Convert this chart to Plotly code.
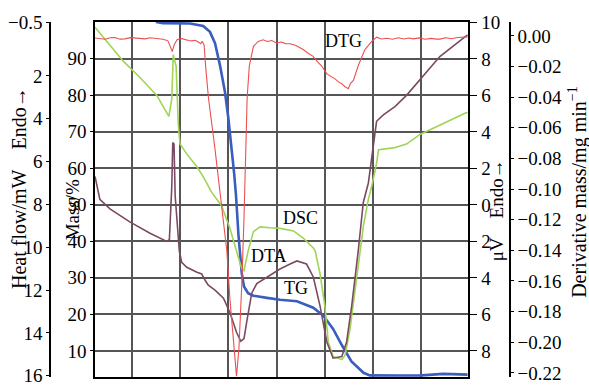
import plotly.graph_objects as go

# Temperature-like abscissa (no labels drawn), grid every 100
grid_x = [100, 200, 300, 400, 500, 600, 700]

# TG: mass / %
tg_x = [150, 165, 221, 248, 262, 272.5, 283, 293, 300, 307, 312, 316, 321, 328, 332.5,
        341, 352, 380, 407, 442, 476, 497, 517, 535, 555, 580, 593, 655, 700, 745, 790, 796]
tg_m = [100, 99.7, 99.6, 98.9, 97.3, 94.2, 88.0, 80.9, 73.8, 65.8, 58.7, 52.5, 41.8, 31.1, 27.6,
        25.8, 25.1, 24.5, 24.0, 23.6, 21.8, 19.6, 16.0, 11.6, 7.1, 4.0, 3.3, 3.25, 3.3, 3.7, 3.5, 3.5]

# DSC: heat flow / mW (endo up)
dsc_x = [24, 83, 117, 152, 177, 183, 186, 192, 196.5, 200, 214, 235, 248, 266, 286, 303.5,
         317, 328, 332.5, 341, 352, 366, 386, 407, 435, 455, 476, 480, 490, 500, 507, 517,
         535, 542, 552, 566, 580, 590, 597, 607, 611, 642, 669, 697, 732, 766, 790, 796]
dsc_h = [-0.27, 1.32, 2.07, 2.91, 3.89, 3.06, 1.01, 1.55, 4.27, 5.18, 5.64, 6.24, 6.70, 7.45,
         8.06, 9.12, 10.18, 11.01, 11.09, 10.18, 9.27, 9.05, 9.09, 9.12, 9.24, 9.57, 10.03,
         10.18, 11.24, 12.75, 14.42, 15.10, 15.25, 15.03, 13.82, 11.39, 8.97, 7.75, 7.15,
         6.09, 5.45, 5.36, 5.18, 4.73, 4.35, 3.97, 3.74, 3.70]

# DTA: signal / µV (endo up)
dta_x = [24, 34, 55, 96, 138, 172.5, 178, 183, 185, 187.6, 190, 193, 198.6, 203.5, 214, 235,
         245, 252, 258.6, 272.5, 290, 303.5, 317, 326, 332.5, 339, 348.5, 359, 379.5, 407,
         428, 442, 462, 476, 490, 504, 517, 535, 545, 555.5, 569, 579.5, 590, 599, 607, 621,
         645, 669, 697, 738, 790, 796]
dta_v = [1.56, 0.31, -0.22, -0.93, -1.55, -2.00, -1.91, 1.02, 3.42, 3.33, 0.49, -0.75, -2.53,
         -3.15, -3.42, -3.69, -3.78, -4.13, -4.40, -4.67, -5.11, -5.91, -6.98, -7.47, -7.33,
         -6.27, -4.84, -4.31, -3.95, -3.51, -3.24, -3.07, -3.24, -3.95, -5.55, -7.51, -8.40,
         -8.31, -7.51, -5.55, -2.53, 0.13, 1.20, 3.16, 4.58, 4.93, 5.38, 6.00, 6.89, 8.13,
         9.20, 9.32]

# DTG: derivative mass / mg min^-1
dtg_x = [24, 35, 45, 55, 65, 76, 86, 97, 107, 118, 128, 138, 148, 157, 165, 175, 181, 184,
         188, 194, 202, 210, 218, 225, 231, 237, 243, 246, 250, 253, 259, 272, 283, 297,
         303.5, 310, 317, 322, 328, 332.5, 336.5, 339, 343.5, 352, 362, 372, 381, 390, 400,
         410, 418, 428, 440, 455, 466, 475, 485, 493, 504, 513, 521, 528, 535, 541, 548.5,
         553, 559, 569, 583, 597, 607, 617, 628, 640, 652, 663, 674, 683, 695, 708, 720,
         731, 738, 750, 762, 775, 790, 796]
dtg_d = [-0.0013, -0.0020, -0.0022, -0.0012, -0.0010, -0.0021, -0.0019, -0.0011, -0.0013,
         -0.0020, -0.0019, -0.0012, -0.0016, -0.0021, -0.0022, -0.0032, -0.0076, -0.0102,
         -0.0057, -0.0025, -0.0016, -0.0024, -0.0030, -0.0032, -0.0028, -0.0038, -0.0051,
         -0.0035, -0.0060, -0.0197, -0.0407, -0.0726, -0.1012, -0.1405, -0.1723, -0.1978,
         -0.2222, -0.2041, -0.1617, -0.1190, -0.0726, -0.0407, -0.0195, -0.0068, -0.0036,
         -0.0025, -0.0036, -0.0030, -0.0046, -0.0040, -0.0050, -0.0051, -0.0062, -0.0089,
         -0.0115, -0.0132, -0.0170, -0.0195, -0.0248, -0.0265, -0.0280, -0.0300, -0.0312,
         -0.0330, -0.0344, -0.0310, -0.0291, -0.0195, -0.0089, -0.0036, -0.0008, -0.0020,
         -0.0015, -0.0022, -0.0012, -0.0020, -0.0014, -0.0019, -0.0013, -0.0022, -0.0016,
         -0.0021, -0.0021, -0.0012, -0.0018, -0.0010, -0.0008, -0.0006]

# Tick definitions
mass_ticks = [10, 20, 30, 40, 50, 60, 70, 80, 90]
hf_ticks = [-0.5, 2, 4, 6, 8, 10, 12, 14, 16]
hf_text = ["\u22120.5", "2", "4", "6", "8", "10", "12", "14", "16"]
uv_ticks = [10, 8, 6, 4, 2, 0, -2, -4, -6, -8]
uv_text = ["10", "8", "6", "4", "2", "0", "2", "4", "6", "8"]
dtg_ticks = [0, -0.02, -0.04, -0.06, -0.08, -0.10, -0.12, -0.14, -0.16, -0.18, -0.20, -0.22]
dtg_text = ["0.00"] + ["\u2212%.2f" % abs(v) for v in dtg_ticks[1:]]

FONT = "Liberation Serif"
W, H = 589, 390
ML, MR, MT, MB = 50, 79, 21.7, 4.0
PW, PH = W - ML - MR, H - MT - MB


def px_x(p):
    return (p - ML) / PW


def px_y(p):
    return 1 - (p - MT) / PH


fig = go.Figure()
fig.add_trace(go.Scatter(x=dsc_x, y=dsc_h, yaxis="y2", mode="lines",
                         line=dict(color="#9fd455", width=1.6)))
fig.add_trace(go.Scatter(x=dta_x, y=dta_v, yaxis="y3", mode="lines",
                         line=dict(color="#7b4a62", width=1.6)))
fig.add_trace(go.Scatter(x=dtg_x, y=dtg_d, yaxis="y4", mode="lines",
                         line=dict(color="#ec5050", width=1.1)))
fig.add_trace(go.Scatter(x=tg_x, y=tg_m, yaxis="y", mode="lines",
                         line=dict(color="#3a5ec0", width=2.6)))

tickfont = dict(family=FONT, size=19, color="black")
fig.update_layout(
    width=W, height=H,
    margin=dict(l=ML, r=MR, t=MT, b=MB),
    paper_bgcolor="white", plot_bgcolor="white",
    showlegend=False,
    font=dict(family=FONT, color="black"),
    xaxis=dict(domain=[px_x(95), px_x(467.7)], range=[24, 795.7], tickvals=grid_x,
               showticklabels=False, ticks="", showgrid=True, gridcolor="#555555",
               gridwidth=1.5, showline=True, linecolor="black", linewidth=1.5,
               mirror=True, zeroline=False),
    yaxis=dict(anchor="x", side="left", range=[2.85, 100], tickvals=mass_ticks,
               ticks="outside", ticklen=3, tickcolor="black", tickfont=tickfont,
               showgrid=True, gridcolor="#555555", gridwidth=1.5, showline=True,
               linecolor="black", linewidth=1.5, zeroline=False),
    yaxis2=dict(overlaying="y", anchor="free", position=0, side="left",
                range=[16.06, -0.52], tickvals=hf_ticks, ticktext=hf_text,
                ticks="outside", ticklen=3, tickcolor="black", tickfont=tickfont,
                ticklabeloverflow="allow",
                showgrid=False, showline=True, linecolor="black", linewidth=1.5,
                zeroline=False),
    yaxis3=dict(overlaying="y", anchor="x", side="right", range=[-9.43, 10.02],
                tickvals=uv_ticks, ticktext=uv_text, ticks="outside", ticklen=8,
                tickcolor="black", tickfont=tickfont, showgrid=False, showline=True,
                linecolor="black", linewidth=1.5, zeroline=False),
    yaxis4=dict(overlaying="y", anchor="free", position=1, side="right",
                range=[-0.2227, 0.0091], tickvals=dtg_ticks, ticktext=dtg_text,
                ticks="outside", ticklen=3, tickcolor="black", tickfont=tickfont,
                ticklabeloverflow="allow",
                showgrid=False, showline=True, linecolor="black", linewidth=1.5,
                zeroline=False),
)

titles = [
    ("Heat flow/mW\u2002\u2002Endo\u2192", 19, 192, 20),
    ("Mass/%", 72, 215, 19),
    ("\u03bcV\u2002\u2002Endo\u2192", 496, 215, 19),
    ("Derivative mass/mg min<sup>\u22121</sup>", 578, 196, 20),
]
for text, x, y, size in titles:
    fig.add_annotation(text=text, x=px_x(x), y=px_y(y), xref="paper", yref="paper",
                       showarrow=False, textangle=-90, xanchor="center", yanchor="middle",
                       font=dict(family=FONT, size=size, color="black"))

labels = [("DTG", 343.5, 41.7), ("DSC", 300.3, 223.3), ("DTA", 268.8, 261.7), ("TG", 295.7, 295)]
for text, x, y in labels:
    fig.add_annotation(text=text, x=px_x(x), y=px_y(y), xref="paper", yref="paper",
                       showarrow=False, xanchor="center", yanchor="middle",
                       font=dict(family=FONT, size=18, color="black"))

fig.write_html("out.html")
